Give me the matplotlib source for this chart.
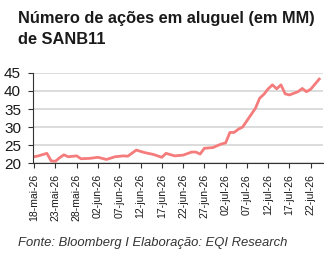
import matplotlib
matplotlib.use("Agg")
import matplotlib.pyplot as plt
from matplotlib import font_manager
import numpy as np
import pandas as pd

# ---- data ----
dates = ["2026-05-18", "2026-05-19", "2026-05-21", "2026-05-22", "2026-05-23",
         "2026-05-24", "2026-05-25", "2026-05-26", "2026-05-28", "2026-05-29",
         "2026-05-31", "2026-06-02", "2026-06-04", "2026-06-06", "2026-06-08",
         "2026-06-09", "2026-06-11", "2026-06-13", "2026-06-15", "2026-06-17",
         "2026-06-18", "2026-06-20", "2026-06-22", "2026-06-24", "2026-06-25",
         "2026-06-26", "2026-06-27", "2026-06-29", "2026-07-01", "2026-07-02",
         "2026-07-03", "2026-07-04", "2026-07-05", "2026-07-06", "2026-07-09",
         "2026-07-10", "2026-07-11", "2026-07-12", "2026-07-13", "2026-07-14",
         "2026-07-15", "2026-07-16", "2026-07-17", "2026-07-19", "2026-07-20",
         "2026-07-21", "2026-07-22", "2026-07-24"]
values = [21.75, 22.0, 22.7, 20.6, 20.5,
          21.5, 22.3, 21.75, 22.0, 21.2,
          21.3, 21.6, 21.0, 21.75, 22.0,
          21.9, 23.6, 22.9, 22.4, 21.6,
          22.7, 22.0, 22.2, 23.05, 23.05,
          22.5, 24.1, 24.3, 25.3, 25.6,
          28.5, 28.5, 29.4, 30.0, 35.2,
          38.0, 39.1, 40.6, 41.7, 40.6,
          41.7, 39.2, 38.9, 39.8, 40.7,
          39.8, 40.5, 43.3]
tick_start = "2026-05-18"
tick_end = "2026-07-22"
tick_step_days = 5
y_ticks = [20, 25, 30, 35, 40, 45]
month_pt = {5: "mai", 6: "jun", 7: "jul"}
title = "Número de ações em aluguel (em MM)\nde SANB11"
source = "Fonte: Bloomberg I Elaboração: EQI Research"

names = {f.name for f in font_manager.fontManager.ttflist}
if "DejaVu Sans Condensed" in names:
    xfam, xsize = "DejaVu Sans Condensed", 7.0
elif "Liberation Sans Narrow" in names:
    xfam, xsize = "Liberation Sans Narrow", 8.6
else:
    xfam, xsize = "Liberation Sans", 7.5

x = pd.to_datetime(dates)
ticks = pd.date_range(tick_start, tick_end, freq=f"{tick_step_days}D")
tick_labels = [f"{d.day:02d}-{month_pt[d.month]}-{d.strftime('%y')}" for d in ticks]

fig = plt.figure(figsize=(3.29, 2.56), dpi=100)
ax = fig.add_axes([0.100, 0.363, 0.882, 0.352])

ax.plot(x, values, color="#F47C7C", linewidth=2.0, solid_joinstyle="round")

ax.set_ylim(20, 45)
ax.set_yticks(y_ticks)
ax.set_xlim(pd.Timestamp(tick_start) - pd.Timedelta(hours=7),
            pd.Timestamp(tick_start) + pd.Timedelta(days=67.9))
ax.set_xticks(ticks)
ax.set_xticklabels(tick_labels, rotation=90, fontsize=xsize, family=xfam,
                   color="#1a1a1a")
for lab in ax.get_yticklabels():
    lab.set_fontsize(11)
    lab.set_family("Liberation Sans")
    lab.set_color("#1a1a1a")

ax.grid(axis="y", color="#D9D9D9", linewidth=1.3)
ax.set_axisbelow(True)
for s in ["top", "right"]:
    ax.spines[s].set_visible(False)
ax.spines["left"].set_color("#333333")
ax.spines["bottom"].set_color("#333333")
ax.spines["left"].set_linewidth(0.8)
ax.spines["bottom"].set_linewidth(0.8)
ax.tick_params(axis="both", direction="out", length=3.5, width=0.8, color="#333333")
ax.tick_params(axis="x", pad=4.5)
ax.tick_params(axis="y", pad=5)

fig.text(0.055, 0.958, title, ha="left", va="top", fontsize=11.8, fontweight="bold",
         family="Liberation Sans", color="#1a1a1a", linespacing=1.55)
fig.text(0.055, 0.050, source, ha="left", va="center", fontsize=9.4, style="italic",
         family="Liberation Sans", color="#333333")

fig.savefig("out.png", dpi=100)
